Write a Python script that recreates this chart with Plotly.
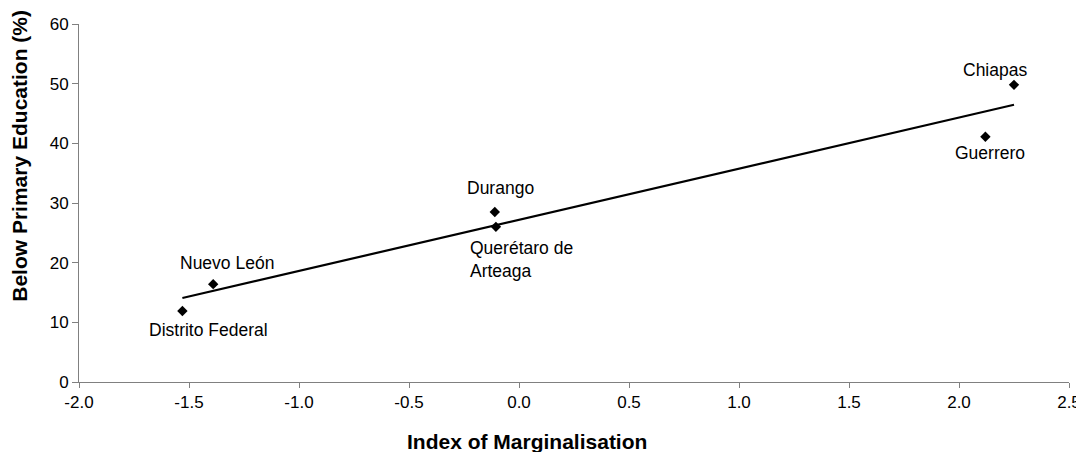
import numpy as np
import plotly.graph_objects as go

states = ["Distrito Federal", "Nuevo León", "Durango", "Querétaro de<br>Arteaga", "Chiapas", "Guerrero"]
marginalisation = [-1.53, -1.39, -0.11, -0.105, 2.25, 2.12]
below_primary = [11.9, 16.4, 28.5, 26.0, 49.8, 41.1]
x_ticks = [-2.0, -1.5, -1.0, -0.5, 0.0, 0.5, 1.0, 1.5, 2.0, 2.5]
y_ticks = [0, 10, 20, 30, 40, 50, 60]

# label offsets (pixels) relative to each point: (xshift, yshift, xanchor)
label_offsets = [(26, -19, "center"), (14, 21, "center"), (6, 24, "center"),
                 (-28, -33, "left"), (-19, 15, "center"), (5, -16, "center")]

x = np.array(marginalisation)
y = np.array(below_primary)
slope, intercept = np.polyfit(x, y, 1)
tx = np.array([x.min(), x.max()])
ty = slope * tx + intercept

fig = go.Figure()
fig.add_trace(go.Scatter(x=tx, y=ty, mode="lines", line=dict(color="black", width=2.2),
                         hoverinfo="skip", showlegend=False))
fig.add_trace(go.Scatter(x=marginalisation, y=below_primary, mode="markers",
                         marker=dict(symbol="diamond", size=8, color="black"),
                         showlegend=False))

font = "Liberation Sans, Arial, sans-serif"
for name, xv, yv, (dx, dy, anc) in zip(states, marginalisation, below_primary, label_offsets):
    fig.add_annotation(x=xv, y=yv, xref="x", yref="y", text=name, showarrow=False,
                       xshift=dx, yshift=dy, xanchor=anc, align="left",
                       font=dict(family=font, size=17.5, color="black"))

# axis titles
fig.add_annotation(x=0.4525, y=-0.165, xref="paper", yref="paper", showarrow=False,
                   text="<b>Index of Marginalisation</b>", xanchor="center", yanchor="middle",
                   font=dict(family=font, size=21, color="black"))
fig.add_annotation(x=-0.0596, y=0.632, xref="paper", yref="paper", showarrow=False,
                   text="<b>Below Primary Education (%)</b>", textangle=-90,
                   xanchor="center", yanchor="middle",
                   font=dict(family=font, size=21, color="black"))

# the page body adds an 8px offset, so the figure is sized to fit the window
fig.update_layout(
    width=1076, height=444,
    margin=dict(l=71, r=15, t=16, b=70),
    paper_bgcolor="white", plot_bgcolor="white",
    font=dict(family=font, size=17, color="black"),
    xaxis=dict(range=[-2.0, 2.5], tickvals=x_ticks, ticktext=[f"{v:.1f}" for v in x_ticks],
               showgrid=False, zeroline=False, showline=True, linecolor="#808080", linewidth=1,
               ticks="outside", ticklen=5, tickcolor="#808080", automargin=False,
               ticklabeloverflow="allow"),
    yaxis=dict(range=[0, 60], tickvals=y_ticks,
               showgrid=False, zeroline=False, showline=True, linecolor="#808080", linewidth=1,
               ticks="outside", ticklen=6, tickcolor="#808080", automargin=False),
)

fig.write_html("out.html")
